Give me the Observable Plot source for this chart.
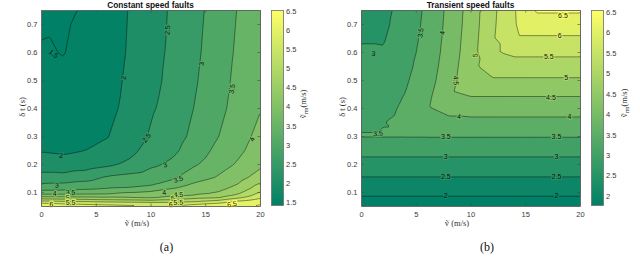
<!DOCTYPE html>
<html><head><meta charset="utf-8">
<script src="https://cdn.jsdelivr.net/npm/d3@7"></script>
<script src="https://cdn.jsdelivr.net/npm/@observablehq/plot@0.6"></script>
<style>
body{margin:0;background:#fff;}
#root{position:relative;width:640px;height:265px;overflow:hidden;font-family:"Liberation Sans",Arial,sans-serif;}
.abs{position:absolute;white-space:nowrap;}
.title{font-weight:bold;font-size:8.3px;color:#111;line-height:10px;transform:translateX(-50%);}
.serif{font-family:"Liberation Serif","DejaVu Serif",serif;color:#333;}
.xl{font-size:8.5px;line-height:10px;transform:translateX(-50%);}
.yl{font-size:8.5px;line-height:10px;transform:translate(-50%,-50%) rotate(-90deg);}
.cap{font-size:12px;line-height:14px;color:#111;transform:translateX(-50%);}
sub{font-size:70%;vertical-align:-2px;}
</style></head><body><div id="root"></div>
<script>
// ---------- data: panel (a) Constant speed faults ----------
const speedA = [0, 2, 4, 6, 8, 10, 12, 14, 16, 18, 20];
const dtA = [0.05, 0.06, 0.07, 0.08, 0.09, 0.1, 0.12, 0.15, 0.2, 0.25, 0.3, 0.4, 0.5, 0.6, 0.75];
// one column per speed, values along dtA
const vrmA = [
  [6.3, 6.1, 5.5, 4.8, 4.2, 3.7, 3.2, 2.7, 2.25, 1.97, 1.85, 1.72, 1.6, 1.53, 1.43],
  [6.25, 6.0, 5.4, 4.75, 4.2, 3.7, 3.25, 2.7, 2.2, 1.92, 1.8, 1.65, 1.56, 1.49, 1.45],
  [6.2, 5.95, 5.35, 4.7, 4.2, 3.75, 3.3, 2.85, 2.25, 2.0, 1.85, 1.72, 1.65, 1.6, 1.53],
  [6.15, 5.9, 5.25, 4.65, 4.2, 3.8, 3.4, 3.1, 2.4, 2.15, 1.98, 1.85, 1.78, 1.73, 1.7],
  [6.1, 5.85, 5.2, 4.6, 4.25, 4.0, 3.45, 3.2, 2.6, 2.35, 2.25, 2.15, 2.1, 2.05, 2.02],
  [6.05, 5.8, 5.15, 4.5, 4.25, 4.1, 3.55, 3.3, 2.9, 2.7, 2.55, 2.45, 2.4, 2.38, 2.35],
  [6.05, 5.75, 5.2, 4.7, 4.45, 4.25, 3.9, 3.45, 3.1, 2.9, 2.8, 2.67, 2.6, 2.57, 2.55],
  [6.3, 5.9, 5.35, 4.95, 4.5, 4.4, 4.15, 3.85, 3.45, 3.25, 3.12, 3.02, 2.95, 2.9, 2.85],
  [6.45, 6.05, 5.6, 5.0, 4.75, 4.5, 4.3, 4.05, 3.75, 3.6, 3.47, 3.35, 3.3, 3.25, 3.2],
  [6.52, 6.35, 6.0, 5.5, 5.1, 4.9, 4.6, 4.35, 4.07, 3.9, 3.8, 3.68, 3.62, 3.58, 3.53],
  [6.55, 6.48, 6.3, 5.95, 5.75, 5.55, 5.2, 4.75, 4.4, 4.25, 4.15, 3.98, 3.9, 3.85, 3.8]
];
const levelsA = [1.5, 2, 2.5, 3, 3.5, 4, 4.5, 5, 5.5, 6, 6.5];
const cbarA = [1.43, 6.52];
const cbarTicksA = [1.5, 2, 2.5, 3, 3.5, 4, 4.5, 5, 5.5, 6, 6.5];
// contour labels: level, speed, dt
const labLevelA = [1.5, 2, 2, 2.5, 2.5, 3, 3, 3, 3.5, 3.5, 4, 4, 4, 3.5, 4.5, 5, 5, 5.5, 5.5, 6, 6, 6.5];
const labSpeedA = [1.1, 7.5, 1.8, 11.5, 9.6, 14.6, 11.3, 1.4, 17.4, 12.5, 19.25, 11.2, 1.2, 2.65, 12.5, 2.4, 12.0, 2.65, 12.5, 0.9, 11.8, 17.4];
const labDtA = [0.595, 0.51, 0.232, 0.68, 0.295, 0.56, 0.198, 0.125, 0.47, 0.147, 0.29, 0.1, 0.097, 0.1, 0.092, 0.081, 0.079, 0.064, 0.064, 0.058, 0.057, 0.058];

// ---------- data: panel (b) Transient speed faults ----------
const speedB = [0, 2, 4, 6, 8, 10, 12, 14, 16, 18, 20];
const dtB = [0.05, 0.1, 0.15, 0.2, 0.25, 0.3, 0.35, 0.4, 0.45, 0.5, 0.55, 0.6, 0.65, 0.7, 0.75];
const vrmB = [
  [1.78, 2.08, 2.46, 2.81, 3.16, 3.52, 3.45, 3.4, 3.35, 3.25, 3.15, 3.05, 2.97, 2.9, 2.85],
  [1.78, 2.08, 2.46, 2.81, 3.16, 3.52, 3.49, 3.4, 3.3, 3.22, 3.12, 3.03, 2.97, 2.92, 2.88],
  [1.78, 2.08, 2.46, 2.81, 3.16, 3.52, 3.6, 3.56, 3.51, 3.44, 3.37, 3.3, 3.25, 3.2, 3.18],
  [1.78, 2.08, 2.46, 2.81, 3.16, 3.52, 3.85, 3.95, 3.88, 3.8, 3.74, 3.7, 3.66, 3.63, 3.6],
  [1.78, 2.08, 2.46, 2.81, 3.16, 3.52, 3.87, 4.15, 4.4, 4.3, 4.25, 4.2, 4.17, 4.14, 4.12],
  [1.78, 2.08, 2.46, 2.81, 3.16, 3.52, 3.87, 4.2, 4.55, 4.85, 4.85, 4.8, 4.77, 4.74, 4.72],
  [1.78, 2.08, 2.46, 2.81, 3.16, 3.52, 3.87, 4.2, 4.55, 4.93, 5.28, 5.45, 5.45, 5.42, 5.4],
  [1.78, 2.08, 2.46, 2.81, 3.16, 3.52, 3.87, 4.2, 4.55, 4.93, 5.28, 5.6, 5.93, 5.98, 5.99],
  [1.78, 2.08, 2.46, 2.81, 3.16, 3.52, 3.87, 4.2, 4.55, 4.93, 5.28, 5.6, 5.93, 6.27, 6.55],
  [1.78, 2.08, 2.46, 2.81, 3.16, 3.52, 3.87, 4.2, 4.55, 4.93, 5.28, 5.6, 5.93, 6.27, 6.55],
  [1.78, 2.08, 2.46, 2.81, 3.16, 3.52, 3.87, 4.2, 4.55, 4.93, 5.28, 5.6, 5.93, 6.27, 6.55]
];
const levelsB = [2, 2.5, 3, 3.5, 4, 4.5, 5, 5.5, 6, 6.5];
const cbarB = [1.78, 6.55];
const cbarTicksB = [2, 2.5, 3, 3.5, 4, 4.5, 5, 5.5, 6, 6.5];
const labLevelB = [3, 3.5, 3.5, 4, 4.5, 5, 3.5, 3.5, 3, 3, 2.5, 2.5, 2, 2, 4, 4, 4.5, 5, 5.5, 6, 6.5];
const labSpeedB = [1.1, 1.5, 5.4, 7.4, 8.6, 10.4, 7.7, 17.8, 7.7, 17.8, 7.7, 17.8, 7.7, 17.8, 8.9, 19.0, 17.3, 18.7, 17.1, 18.1, 18.4];
const labDtB = [0.595, 0.31, 0.67, 0.67, 0.5, 0.59, 0.298, 0.298, 0.227, 0.227, 0.155, 0.155, 0.087, 0.087, 0.37, 0.37, 0.44, 0.51, 0.585, 0.66, 0.733];

const xTicks = [0, 5, 10, 15, 20];
const yTicks = [0.1, 0.2, 0.3, 0.4, 0.5, 0.6, 0.7];
const summer = ["#008066", "#ffff66"];
const fmt = d3.format("~g");

// ---------- layout ----------
const W = 270, H = 235, ML = 41, MR = 10, MT = 10, MB = 29;
const FW = W - ML - MR, FH = H - MT - MB;

function labelAngle(xs, ys, cols, x, y) {
  const kx = FW / 20, ky = FH / 0.7;
  let i = 0; while (i < xs.length - 2 && x > xs[i + 1]) i++;
  let j = 0; while (j < ys.length - 2 && y > ys[j + 1]) j++;
  const u = (x - xs[i]) / (xs[i + 1] - xs[i]), w = (y - ys[j]) / (ys[j + 1] - ys[j]);
  const z00 = cols[i][j], z10 = cols[i + 1][j], z01 = cols[i][j + 1], z11 = cols[i + 1][j + 1];
  const gx = ((1 - w) * (z10 - z00) + w * (z11 - z01)) / ((xs[i + 1] - xs[i]) * kx);
  const gy = -((1 - u) * (z01 - z00) + u * (z11 - z10)) / ((ys[j + 1] - ys[j]) * ky);
  let a = Math.atan2(gx, -gy) * 180 / Math.PI;
  if (a > 90) a -= 180;
  if (a <= -90) a += 180;
  return a;
}

function panel(xs, ys, cols, levels, cdomain, labLevel, labSpeed, labDt) {
  const grid = [];
  xs.forEach((s, i) => ys.forEach((t, j) => grid.push({s, t, z: cols[i][j]})));
  const labels = labLevel.map((L, k) => ({
    level: L, s: labSpeed[k], t: labDt[k],
    angle: labelAngle(xs, ys, cols, labSpeed[k], labDt[k])
  }));
  return Plot.plot({
    width: W, height: H, marginLeft: ML, marginRight: MR, marginTop: MT, marginBottom: MB,
    x: {domain: [0, 20], label: null},
    y: {domain: [0.05, 0.75], label: null},
    color: {type: "linear", domain: cdomain, range: summer, clamp: true},
    style: {fontFamily: "'Liberation Sans', Arial, sans-serif", fontSize: "7.5px", color: "#3a3a3a", background: "transparent"},
    marks: [
      Plot.contour(grid, {x: "s", y: "t", fill: "z", interpolate: "barycentric",
        thresholds: [0, ...levels], stroke: "#000", strokeWidth: 0.5, strokeOpacity: 0.85}),
      Plot.text(labels, {x: "s", y: "t", text: d => fmt(d.level), rotate: "angle",
        fill: "#111", stroke: "level", strokeWidth: 2.2, paintOrder: "stroke", strokeLinejoin: "round",
        fontSize: 7}),
      Plot.tickX(xTicks, {x: d => d, insetTop: FH - 2.5, stroke: "#444", strokeWidth: 0.6}),
      Plot.tickX(xTicks, {x: d => d, insetBottom: FH - 2.5, stroke: "#444", strokeWidth: 0.6}),
      Plot.tickY(yTicks, {y: d => d, insetRight: FW - 2.5, stroke: "#444", strokeWidth: 0.6}),
      Plot.tickY(yTicks, {y: d => d, insetLeft: FW - 2.5, stroke: "#444", strokeWidth: 0.6}),
      Plot.frame({stroke: "#6e6e6e", strokeWidth: 0.8}),
      Plot.axisX({ticks: xTicks, tickSize: 0, tickPadding: 5, label: null, tickFormat: fmt}),
      Plot.axisY({ticks: yTicks, tickSize: 0, tickPadding: 4, label: null, tickFormat: fmt})
    ]
  });
}

function colorbar(cdomain, ticks) {
  return Plot.plot({
    width: 50, height: H, marginLeft: 1, marginRight: 37, marginTop: MT, marginBottom: 30,
    x: {domain: [0, 1], axis: null},
    y: {domain: cdomain, axis: null},
    color: {type: "linear", domain: cdomain, range: summer, clamp: true},
    style: {fontFamily: "'Liberation Sans', Arial, sans-serif", fontSize: "7.5px", color: "#3a3a3a", background: "transparent"},
    marks: [
      Plot.raster({x1: 0, x2: 1, y1: cdomain[0], y2: cdomain[1], fill: (x, y) => y}),
      Plot.frame({stroke: "#6e6e6e", strokeWidth: 0.8}),
      Plot.axisY({anchor: "right", ticks, tickSize: 0, tickPadding: 2.5, label: null, tickFormat: fmt})
    ]
  });
}

const root = document.getElementById("root");
function place(node, left, top) {
  node.style.position = "absolute"; node.style.left = left + "px"; node.style.top = top + "px";
  root.appendChild(node);
}
function html(str, cls, left, top) {
  const d = document.createElement("div");
  d.className = "abs " + cls; d.innerHTML = str;
  d.style.left = left + "px"; d.style.top = top + "px";
  root.appendChild(d);
}

place(panel(speedA, dtA, vrmA, levelsA, cbarA, labLevelA, labSpeedA, labDtA), 0, 0);
place(colorbar(cbarA, cbarTicksA), 270, 0);
place(panel(speedB, dtB, vrmB, levelsB, cbarB, labLevelB, labSpeedB, labDtB), 320, 0);
place(colorbar(cbarB, cbarTicksB), 590, 0);

html("Constant speed faults", "title", 150.5, 0);
html("Transient speed faults", "title", 470.5, 0);
html("ṽ (m/s)", "serif xl", 137, 217.5);
html("ṽ (m/s)", "serif xl", 457, 217.5);
html("δ t (s)", "serif yl", 22, 107);
html("δ t (s)", "serif yl", 342, 107);
html("ṽ<sub>rm</sub>(m/s)", "serif yl", 304, 104);
html("ṽ<sub>rm</sub>(m/s)", "serif yl", 625, 103);
html("(a)", "serif cap", 166.5, 239.5);
html("(b)", "serif cap", 487, 239.5);
</script>
</body></html>
